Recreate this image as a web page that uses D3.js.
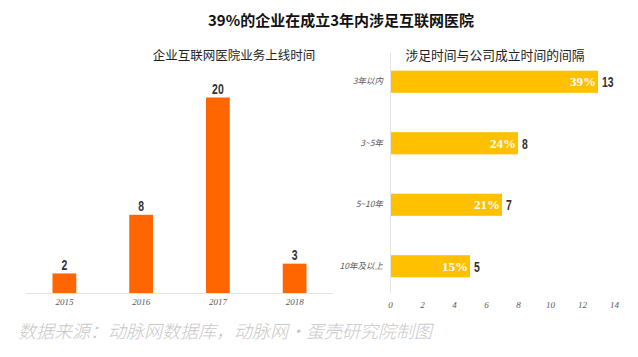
<!DOCTYPE html>
<html><head><meta charset="utf-8">
<script src="https://cdn.jsdelivr.net/npm/d3@7"></script>
<style>body{margin:0;background:#fff}svg{display:block}</style>
</head><body>
<svg id="c" width="638" height="357"></svg>
<script>
const title = "39%的企业在成立3年内涉足互联网医院";
const leftTitle = "企业互联网医院业务上线时间";
const rightTitle = "涉足时间与公司成立时间的间隔";
const source = "数据来源：动脉网数据库，动脉网·蛋壳研究院制图";
const years = ["2015", "2016", "2017", "2018"];
const yearCounts = [2, 8, 20, 3];
const intervals = ["3年以内", "3~5年", "5~10年", "10年及以上"];
const intervalCounts = [13, 8, 7, 5];
const intervalPct = ["39%", "24%", "21%", "15%"];
const xTicks = [0, 2, 4, 6, 8, 10, 12, 14];

const svg = d3.select("#c");
const cjk = "'Noto Sans CJK SC', sans-serif";
const numFont = "'Liberation Sans', 'DejaVu Sans', sans-serif";
const sx = 0.72;

svg.append("text").attr("x", 341).attr("y", 25.5).attr("text-anchor", "middle")
  .attr("font-family", cjk).attr("font-weight", "bold").attr("font-size", 15).attr("fill", "#111")
  .text(title);
svg.append("text").attr("x", 234).attr("y", 59.5).attr("text-anchor", "middle")
  .attr("font-family", cjk).attr("font-size", 12.5).attr("fill", "#222").text(leftTitle);
svg.append("text").attr("x", 495).attr("y", 59.5).attr("text-anchor", "middle")
  .attr("font-family", cjk).attr("font-size", 12.8).attr("fill", "#222").text(rightTitle);

// Left chart
const xb = d3.scaleBand().domain(years).range([26, 333]).paddingInner(0.69).paddingOuter(0.345);
const yl = d3.scaleLinear().domain([0, 20]).range([293, 97.5]);
const gl = svg.append("g");
gl.append("line").attr("x1", 26).attr("x2", 333).attr("y1", 293.5).attr("y2", 293.5)
  .attr("stroke", "#e4e4e4").attr("stroke-width", 1);
gl.selectAll("rect").data(years).join("rect")
  .attr("x", d => xb(d)).attr("width", xb.bandwidth())
  .attr("y", (d, i) => yl(yearCounts[i])).attr("height", (d, i) => yl(0) - yl(yearCounts[i]))
  .attr("fill", "#FF6600");
gl.selectAll("text.v").data(years).join("text").attr("class", "v")
  .attr("transform", (d, i) => `translate(${xb(d) + xb.bandwidth() / 2},${yl(yearCounts[i]) - 3.5}) scale(${sx},1)`)
  .attr("text-anchor", "middle").attr("font-family", numFont).attr("font-weight", "bold")
  .attr("font-size", 14.5).attr("fill", "#333").text((d, i) => yearCounts[i]);
const axl = gl.append("g").attr("transform", "translate(0,293)")
  .call(d3.axisBottom(xb).tickSize(0).tickPadding(6));
axl.select(".domain").remove();
axl.selectAll("text").attr("font-family", "'Liberation Serif', serif").attr("font-style", "italic")
  .attr("font-size", 9).attr("fill", "#595959");

// Right chart
const xr = d3.scaleLinear().domain([0, 14]).range([390, 614]);
const yb = d3.scaleBand().domain(intervals).range([51, 297]).paddingInner(0.64).paddingOuter(0.32);
const gr = svg.append("g");
gr.append("line").attr("x1", 390.5).attr("x2", 390.5).attr("y1", 52).attr("y2", 293)
  .attr("stroke", "#e4e4e4").attr("stroke-width", 1);
gr.selectAll("rect").data(intervals).join("rect")
  .attr("x", xr(0) + 1).attr("y", d => yb(d)).attr("height", yb.bandwidth())
  .attr("width", (d, i) => xr(intervalCounts[i]) - xr(0) - 1).attr("fill", "#FFC000");
gr.selectAll("text.p").data(intervals).join("text").attr("class", "p")
  .attr("x", (d, i) => xr(intervalCounts[i]) - 2).attr("y", d => yb(d) + yb.bandwidth() / 2 + 4.5)
  .attr("text-anchor", "end").attr("font-family", "'Liberation Serif', serif").attr("font-weight", "bold")
  .attr("font-size", 13).attr("fill", "#fff").text((d, i) => intervalPct[i]);
gr.selectAll("text.v").data(intervals).join("text").attr("class", "v")
  .attr("transform", (d, i) => `translate(${xr(intervalCounts[i]) + 4},${yb(d) + yb.bandwidth() / 2 + 5.5}) scale(${sx},1)`)
  .attr("font-family", numFont).attr("font-weight", "bold")
  .attr("font-size", 14.5).attr("fill", "#333").text((d, i) => intervalCounts[i]);
const ayr = gr.append("g").attr("transform", "translate(390,0)")
  .call(d3.axisLeft(yb).tickSize(0).tickPadding(7));
ayr.select(".domain").remove();
ayr.selectAll("text").attr("font-family", cjk).attr("font-style", "italic")
  .attr("font-size", 8.5).attr("fill", "#595959");
const axr = gr.append("g").attr("transform", "translate(0,293)")
  .call(d3.axisBottom(xr).tickValues(xTicks).tickSize(0).tickPadding(9));
axr.select(".domain").remove();
axr.selectAll("text").attr("font-family", "'Liberation Serif', serif").attr("font-style", "italic")
  .attr("font-size", 9).attr("fill", "#595959");

svg.append("text").attr("x", 18).attr("y", 338).attr("font-family", cjk).attr("font-weight", 300)
  .attr("font-style", "italic").attr("font-size", 18).attr("fill", "#c8c8c8").text(source);
</script>
</body></html>
